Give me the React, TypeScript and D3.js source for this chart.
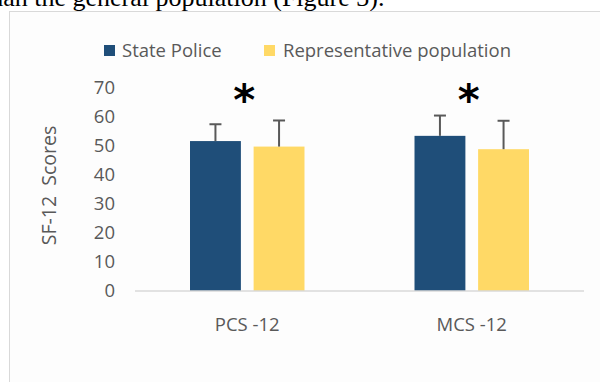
import * as d3 from 'd3';

const categories = ["PCS -12", "MCS -12"];
const seriesNames = ["State Police", "Representative population"];
const statePolice = [51.7, 53.5];
const statePoliceErr = [5.8, 7.0];
const representative = [49.8, 48.9];
const representativeErr = [9.0, 9.8];
const significant = [true, true];
const yTicks = [0, 10, 20, 30, 40, 50, 60, 70];

const colors = ["#1f4e79", "#ffd966"];
const textGray = "#595959";

export default function App() {
  const width = 600;
  const height = 382;
  const margin = { top: 88, right: 16, bottom: 91, left: 135 };

  const y = d3.scaleLinear().domain([0, 70]).range([height - margin.bottom, margin.top]);
  const x0 = d3.scaleBand<string>()
    .domain(categories)
    .range([margin.left, width - margin.right])
    .paddingInner(0.49)
    .paddingOuter(0.245);
  const x1 = d3.scaleBand<string>()
    .domain(seriesNames)
    .range([0, x0.bandwidth()])
    .paddingInner(0.2);

  const series = [
    { name: seriesNames[0], values: statePolice, errs: statePoliceErr, color: colors[0] },
    { name: seriesNames[1], values: representative, errs: representativeErr, color: colors[1] },
  ];

  const font = "'Open Sans', 'Liberation Sans', sans-serif";

  return (
    <div style={{ position: 'absolute', left: 0, top: 0 }}>
      <svg width={width} height={height} style={{ display: 'block', background: '#fff' }}>
        <text x={-17} y={6} fontFamily="'Liberation Serif', 'Times New Roman', serif" fontSize={26} fill="#000">
          than the general population (Figure 3).
        </text>
        <rect x={9.5} y={11.5} width={620} height={400} fill="#fdfdfd" stroke="#d9d9d9" strokeWidth={1} />

        {/* legend */}
        <g fontFamily={font} fontSize={18.5} fill={textGray}>
          <rect x={104} y={45} width={11} height={11} fill={colors[0]} />
          <text x={122} y={50.5} dy="0.35em">{seriesNames[0]}</text>
          <rect x={264} y={45} width={11} height={11} fill={colors[1]} />
          <text x={283} y={50.5} dy="0.35em">{seriesNames[1]}</text>
        </g>

        {/* y axis */}
        <g fontFamily={font} fontSize={18.5} fill={textGray}>
          {yTicks.map(t => (
            <text key={t} x={115} y={y(t)} dy="0.35em" textAnchor="end">{t}</text>
          ))}
          <text
            transform={`translate(56,${(y(0) + y(70)) / 2 - 4}) rotate(-90)`}
            textAnchor="middle"
            fontSize={19.5}
            style={{ whiteSpace: 'pre' }}
          >
            {"SF-12  Scores"}
          </text>
        </g>

        {/* bars */}
        {series.map(s => (
          <g key={s.name}>
            {categories.map((c, i) => {
              const bx = x0(c)! + x1(s.name)!;
              return (
                <rect key={c} x={bx} y={y(s.values[i])} width={x1.bandwidth()}
                  height={y(0) - y(s.values[i])} fill={s.color} />
              );
            })}
          </g>
        ))}

        {/* baseline */}
        <line x1={margin.left} x2={width - margin.right} y1={y(0)} y2={y(0)} stroke="#d9d9d9" strokeWidth={1.5} />

        {/* error bars */}
        {series.map(s => (
          <g key={s.name + "-err"} stroke="#595959" strokeWidth={2}>
            {categories.map((c, i) => {
              const cx = x0(c)! + x1(s.name)! + x1.bandwidth() / 2;
              return (
                <g key={c}>
                  <line x1={cx} x2={cx} y1={y(s.values[i])} y2={y(s.values[i] + s.errs[i])} />
                  <line x1={cx - 6} x2={cx + 6} y1={y(s.values[i] + s.errs[i])} y2={y(s.values[i] + s.errs[i])} />
                </g>
              );
            })}
          </g>
        ))}

        {/* significance */}
        {categories.map((c, i) => significant[i] ? (
          <text key={c} x={x0(c)! + x0.bandwidth() / 2 - 3} y={115}
            textAnchor="middle" fontFamily="'DejaVu Sans', sans-serif" fontWeight="bold"
            fontSize={42} fill="#000">*</text>
        ) : null)}

        {/* x labels */}
        <g fontFamily={font} fontSize={18.5} fill={textGray}>
          {categories.map(c => (
            <text key={c} x={x0(c)! + x0.bandwidth() / 2} y={325} dy="0.35em" textAnchor="middle">{c}</text>
          ))}
        </g>
      </svg>
    </div>
  );
}
